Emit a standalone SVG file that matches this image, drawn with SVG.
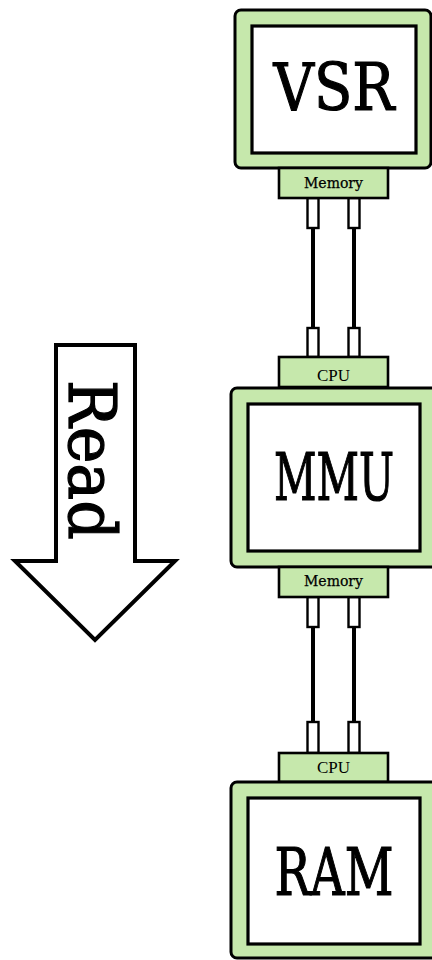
<svg xmlns="http://www.w3.org/2000/svg" width="432" height="960" viewBox="0 0 432 960">
  <style>
    .frame { fill: #c6e8ac; stroke: #000; stroke-width: 3; }
    .screen { fill: #fff; stroke: #000; stroke-width: 3.2; }
    .port { fill: #c6e8ac; stroke: #000; stroke-width: 2.6; }
    .pin { fill: #fff; stroke: #000; stroke-width: 2.4; }
    .wire { stroke: #000; stroke-width: 4; fill: none; }
    .big { font-family: "DejaVu Serif", "Liberation Serif", serif; font-size: 58px; fill: #000; stroke: #000; stroke-width: 1.1; }
    .mono { font-family: "DejaVu Serif", "Liberation Serif", serif; font-size: 14px; fill: #000; stroke: #000; stroke-width: 0.25; }
    .serif { font-family: "Liberation Serif", "DejaVu Serif", serif; font-size: 17px; fill: #000; }
  </style>

  <!-- read direction arrow -->
  <g id="read-arrow">
    <polygon points="56,345 135,345 135,561 175,561 95,640 15,561 56,561" fill="#fff" stroke="#000" stroke-width="4" stroke-linejoin="miter"/>
    <text class="big" transform="translate(69,460) rotate(90) scale(1,1.13)" x="0" y="0" text-anchor="middle" textLength="160" lengthAdjust="spacingAndGlyphs">Read</text>
  </g>

  <!-- wires between pins -->
  <g id="connectors">
    <line class="wire" x1="313" y1="228" x2="313" y2="328"/>
    <line class="wire" x1="354" y1="228" x2="354" y2="328"/>
    <line class="wire" x1="313" y1="627" x2="313" y2="722"/>
    <line class="wire" x1="354" y1="627" x2="354" y2="722"/>
    <!-- pins -->
    <rect class="pin" x="307.5" y="198" width="11" height="30"/>
    <rect class="pin" x="348.5" y="198" width="11" height="30"/>
    <rect class="pin" x="307.5" y="328" width="11" height="29"/>
    <rect class="pin" x="348.5" y="328" width="11" height="29"/>
    <rect class="pin" x="307.5" y="597" width="11" height="30"/>
    <rect class="pin" x="348.5" y="597" width="11" height="30"/>
    <rect class="pin" x="307.5" y="722" width="11" height="31"/>
    <rect class="pin" x="348.5" y="722" width="11" height="31"/>
  </g>

  <g id="vsr">
    <rect class="frame" x="235" y="10" width="196" height="158" rx="6"/>
    <rect class="screen" x="252" y="26" width="164" height="127"/>
    <text class="big" transform="translate(334,110) scale(1,1.13)" x="0" y="0" text-anchor="middle" textLength="121" lengthAdjust="spacingAndGlyphs">VSR</text>
    <rect class="port" x="279" y="168" width="109" height="30"/>
    <text class="mono" x="333.5" y="188" text-anchor="middle" textLength="59" lengthAdjust="spacingAndGlyphs">Memory</text>
  </g>

  <g id="mmu">
    <rect class="port" x="279" y="357" width="109" height="30"/>
    <text class="serif" x="333.5" y="381" text-anchor="middle">CPU</text>
    <rect class="frame" x="231" y="388" width="208" height="179" rx="6"/>
    <rect class="screen" x="248" y="404" width="172" height="147"/>
    <text class="big" style="font-size:50px;stroke-width:0.95" transform="translate(334,500) scale(1,1.31)" x="0" y="0" text-anchor="middle" textLength="120" lengthAdjust="spacingAndGlyphs">MMU</text>
    <rect class="port" x="279" y="567" width="109" height="30"/>
    <text class="mono" x="333.5" y="586" text-anchor="middle" textLength="59" lengthAdjust="spacingAndGlyphs">Memory</text>
  </g>

  <g id="ram">
    <rect class="port" x="279" y="753" width="109" height="29"/>
    <text class="serif" x="333.5" y="773" text-anchor="middle">CPU</text>
    <rect class="frame" x="231" y="782" width="208" height="176" rx="6"/>
    <rect class="screen" x="248" y="798" width="172" height="146"/>
    <text class="big" transform="translate(334,895) scale(1,1.13)" x="0" y="0" text-anchor="middle" textLength="119" lengthAdjust="spacingAndGlyphs">RAM</text>
  </g>
</svg>
